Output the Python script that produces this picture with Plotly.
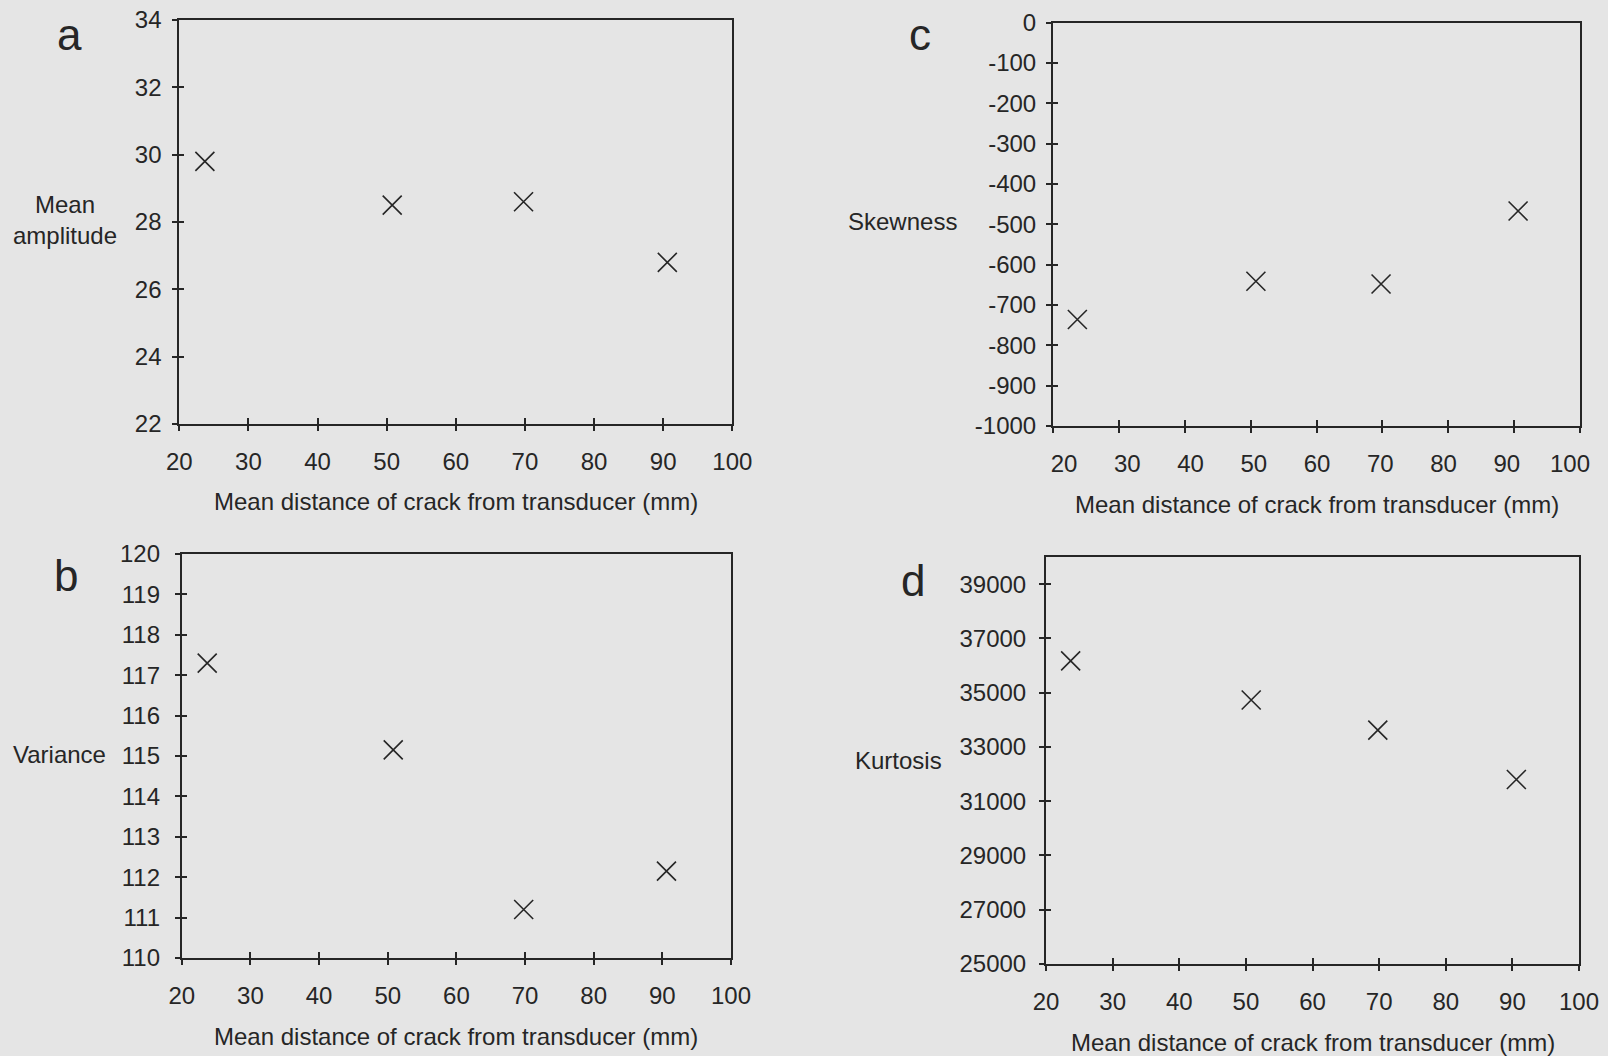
import plotly.graph_objects as go

# ---- data -------------------------------------------------------------
distance = [23.7, 50.8, 69.8, 90.6]          # mean crack distance (mm)
mean_amplitude = [29.8, 28.5, 28.6, 26.8]
variance = [117.3, 115.15, 111.2, 112.15]
skewness = [-736, -641, -648, -467]
kurtosis = [36170, 34730, 33620, 31800]

x_ticks = [20, 30, 40, 50, 60, 70, 80, 90, 100]
amp_ticks = [22, 24, 26, 28, 30, 32, 34]
var_ticks = [110, 111, 112, 113, 114, 115, 116, 117, 118, 119, 120]
skew_ticks = [0, -100, -200, -300, -400, -500, -600, -700, -800, -900, -1000]
kurt_ticks = [25000, 27000, 29000, 31000, 33000, 35000, 37000, 39000]

x_title = "Mean distance of crack from transducer (mm)"

# ---- page geometry ------------------------------------------------------
W, H = 1608, 1056
BG = "#e5e5e5"
INK = "#262626"
FONT = "Liberation Sans, Arial, Helvetica, sans-serif"
FS = 24


def px(x):
    return x / W


def py(y):
    return 1 - y / H


# plot frames in pixels: left, right, top, bottom
frames = {
    1: (179.3, 732.3, 20.0, 424.0),
    2: (181.8, 731.0, 554.0, 958.0),
    3: (1053.0, 1580.0, 22.7, 426.0),
    4: (1046.0, 1579.0, 557.0, 964.0),
}

# label_range: the x tick labels of panel c sit on a slightly narrower scale
# than its tick marks, so they are drawn by their own overlaid axis
panels = {
    1: dict(y=mean_amplitude, yrange=[22, 34], yticks=amp_ticks, ystand=6, label_range=None),
    2: dict(y=variance, yrange=[110, 120], yticks=var_ticks, ystand=10, label_range=None),
    3: dict(y=skewness, yrange=[-1000, 0], yticks=skew_ticks, ystand=5, label_range=[18.26, 101.58]),
    4: dict(y=kurtosis, yrange=[25000, 40000], yticks=kurt_ticks, ystand=8, label_range=None),
}

fig = go.Figure()
layout = {}

for i, p in panels.items():
    l, r, t, b = frames[i]
    xd = [px(l), px(r)]
    yd = [py(b), py(t)]
    sfx = "" if i == 1 else str(i)
    ov = str(i + 4)
    own_labels = p["label_range"] is None

    fig.add_trace(go.Scatter(
        x=distance, y=p["y"], mode="markers",
        xaxis="x" + sfx, yaxis="y" + sfx,
        marker=dict(symbol="x-thin-open", size=19,
                    line=dict(color=INK, width=1.6), color=INK),
        showlegend=False, hoverinfo="skip",
    ))
    # empty trace so the inner tick overlay axes get drawn
    fig.add_trace(go.Scatter(x=[], y=[], xaxis="x" + ov, yaxis="y" + ov,
                             showlegend=False, hoverinfo="skip"))

    common = dict(showgrid=False, zeroline=False, color=INK, automargin=False,
                  tickfont=dict(family=FONT, size=FS, color=INK))
    layout["xaxis" + sfx] = dict(
        domain=xd, range=[20, 100], tickvals=x_ticks,
        ticktext=[str(v) for v in x_ticks], anchor="y" + sfx,
        showline=True, linecolor=INK, linewidth=2, mirror=True,
        ticks="outside", ticklen=5, tickwidth=1.5, tickcolor=INK,
        showticklabels=own_labels, ticklabelstandoff=10, **common)
    layout["yaxis" + sfx] = dict(
        domain=yd, range=p["yrange"], tickvals=p["yticks"],
        ticktext=[str(v) for v in p["yticks"]], anchor="x" + sfx,
        showline=True, linecolor=INK, linewidth=2, mirror=True,
        ticks="outside", ticklen=5, tickwidth=1.5, tickcolor=INK,
        ticklabelstandoff=p["ystand"], **common)
    # overlay axes carry the inward half of each crossing tick mark
    layout["xaxis" + ov] = dict(
        domain=xd, range=[20, 100], tickvals=x_ticks, overlaying="x" + sfx,
        anchor="y" + sfx, showline=False, showticklabels=False,
        ticks="inside", ticklen=6, tickwidth=1.5, tickcolor=INK,
        showgrid=False, zeroline=False, automargin=False)
    layout["yaxis" + ov] = dict(
        domain=yd, range=p["yrange"], tickvals=p["yticks"], overlaying="y" + sfx,
        anchor="x" + sfx, showline=False, showticklabels=False,
        ticks="inside", ticklen=5, tickwidth=1.5, tickcolor=INK,
        showgrid=False, zeroline=False, automargin=False)

    if not own_labels:
        lab = str(i + 8)
        fig.add_trace(go.Scatter(x=[], y=[], xaxis="x" + lab, yaxis="y" + sfx,
                                 showlegend=False, hoverinfo="skip"))
        layout["xaxis" + lab] = dict(
            domain=xd, range=p["label_range"], tickvals=x_ticks,
            ticktext=[str(v) for v in x_ticks], overlaying="x" + sfx,
            anchor="y" + sfx, side="bottom", showline=False, ticks="",
            ticklen=5, ticklabelstandoff=21, ticklabeloverflow="allow",
            **common)

annotations = []


def label(text, x, y, size=FS, **kw):
    annotations.append(dict(
        text=text, x=px(x), y=py(y), xref="paper", yref="paper",
        showarrow=False, xanchor="center", yanchor="middle",
        font=dict(family=FONT, size=size, color=INK), **kw))


# panel letters
label("a", 69, 34, size=44)
label("b", 66, 575, size=44)
label("c", 920, 34, size=44)
label("d", 913, 580, size=44)

# axis titles
for i in frames:
    l, r, t, b = frames[i]
    label(x_title, (l + r) / 2, b + 78)

label("Mean<br>amplitude", 65, 220)
label("Variance", 59.5, 754)
label("Skewness", 902, 221.5)
label("Kurtosis", 898, 760)

layout.update(
    width=W, height=H,
    margin=dict(l=0, r=0, t=0, b=0),
    paper_bgcolor=BG, plot_bgcolor=BG,
    annotations=annotations,
    font=dict(family=FONT, color=INK),
)
fig.update_layout(**layout)
fig.write_html("out.html")
